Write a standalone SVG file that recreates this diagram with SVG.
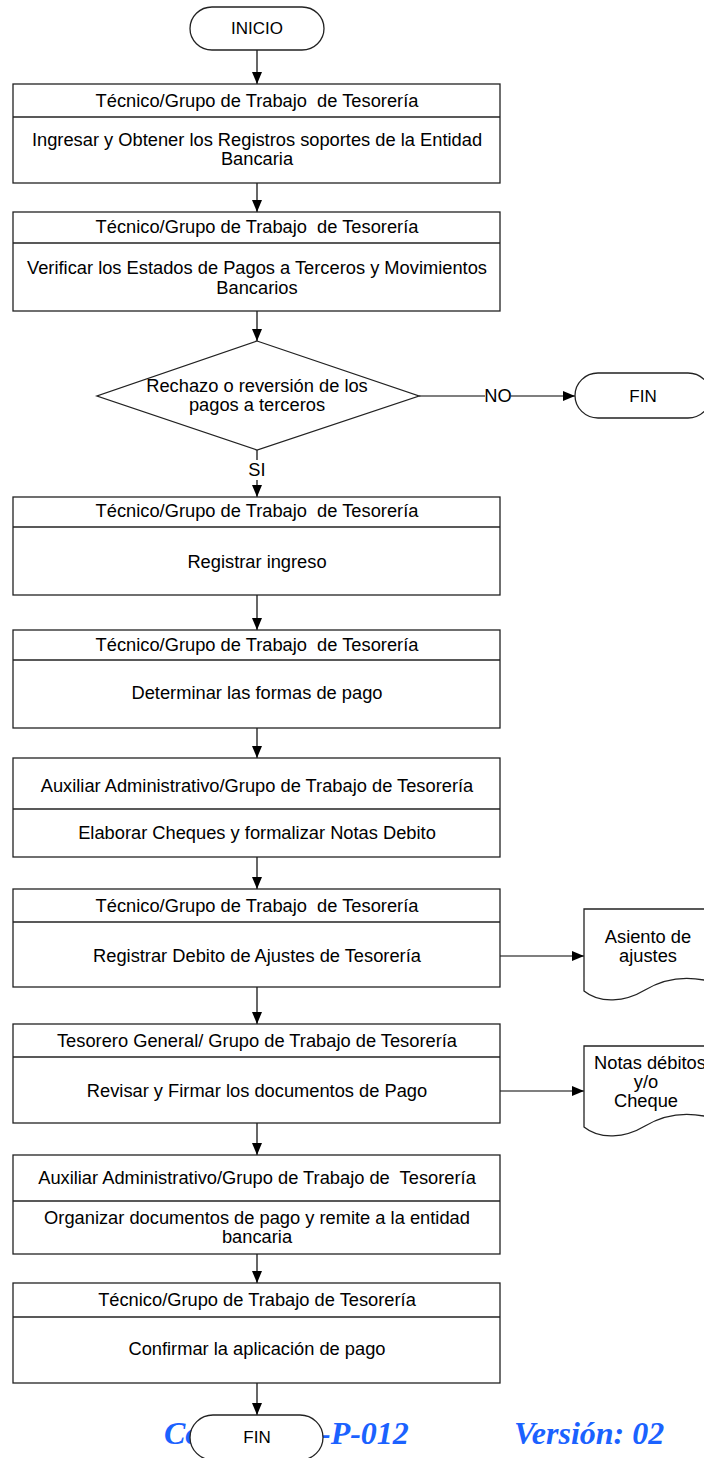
<svg xmlns="http://www.w3.org/2000/svg" width="704" height="1458" viewBox="0 0 704 1458">
<style>
.t{font-family:"Liberation Sans",Arial,sans-serif;font-size:18.3px;fill:#000;text-anchor:middle;white-space:pre}
.box{fill:#fff;stroke:#222;stroke-width:1.3}
.ln{stroke:#222;stroke-width:1.3;fill:none}
.c{stroke:#000;stroke-width:1.2;fill:none}
.blue{font-family:"Liberation Serif","Times New Roman",serif;font-weight:bold;font-style:italic;font-size:32px;fill:#1B62FF}
</style>
<defs>
<marker id="ah" viewBox="0 0 12 10" refX="12" refY="5" markerWidth="12" markerHeight="10" markerUnits="userSpaceOnUse" orient="auto">
<path d="M0,0 L12,5 L0,10 z" fill="#000"/>
</marker>
</defs>
<rect width="704" height="1458" fill="#fff"/>

<text class="blue" x="164" y="1444">Co</text>
<text class="blue" x="320" y="1444">-P-012</text>
<text class="blue" x="514" y="1444">Versión: 02</text>

<g id="connectors">
<line class="c" x1="257" y1="50" x2="257" y2="84" marker-end="url(#ah)"/>
<line class="c" x1="257" y1="183" x2="257" y2="212" marker-end="url(#ah)"/>
<line class="c" x1="257" y1="311" x2="257" y2="341" marker-end="url(#ah)"/>
<line class="c" x1="419" y1="396" x2="485" y2="396"/>
<line class="c" x1="511" y1="396" x2="575" y2="396" marker-end="url(#ah)"/>
<text class="t" x="498" y="402">NO</text>
<line class="c" x1="257" y1="450" x2="257" y2="460"/>
<line class="c" x1="257" y1="480" x2="257" y2="497" marker-end="url(#ah)"/>
<text class="t" x="257" y="476">SI</text>
<line class="c" x1="257" y1="595" x2="257" y2="630" marker-end="url(#ah)"/>
<line class="c" x1="257" y1="728" x2="257" y2="758" marker-end="url(#ah)"/>
<line class="c" x1="257" y1="857" x2="257" y2="889" marker-end="url(#ah)"/>
<line class="c" x1="257" y1="987" x2="257" y2="1024" marker-end="url(#ah)"/>
<line class="c" x1="257" y1="1123" x2="257" y2="1155" marker-end="url(#ah)"/>
<line class="c" x1="257" y1="1254" x2="257" y2="1283" marker-end="url(#ah)"/>
<line class="c" x1="257" y1="1383" x2="257" y2="1415" marker-end="url(#ah)"/>
<line class="c" x1="500" y1="956" x2="584" y2="956" marker-end="url(#ah)"/>
<line class="c" x1="500" y1="1091" x2="584" y2="1091" marker-end="url(#ah)"/>
</g>

<g id="inicio">
<rect class="box" x="190" y="7" width="134" height="43" rx="22" ry="21.5"/>
<text class="t" x="257" y="34" style="font-size:17px">INICIO</text>
</g>

<g id="p1">
<rect class="box" x="13" y="84" width="487" height="99"/>
<line class="ln" x1="13" y1="117" x2="500" y2="117"/>
<text class="t" x="257" y="107">Técnico/Grupo de Trabajo  de Tesorería</text>
<text class="t" x="257" y="146">Ingresar y Obtener los Registros soportes de la Entidad</text>
<text class="t" x="257" y="165">Bancaria</text>
</g>

<g id="p2">
<rect class="box" x="13" y="212" width="487" height="99"/>
<line class="ln" x1="13" y1="243" x2="500" y2="243"/>
<text class="t" x="257" y="233">Técnico/Grupo de Trabajo  de Tesorería</text>
<text class="t" x="257" y="274">Verificar los Estados de Pagos a Terceros y Movimientos</text>
<text class="t" x="257" y="294">Bancarios</text>
</g>

<g id="decision">
<polygon class="box" points="257,341 419,396 257,450 97,396"/>
<text class="t" x="257" y="392">Rechazo o reversión de los</text>
<text class="t" x="257" y="411">pagos a terceros</text>
</g>

<g id="fin1">
<rect class="box" x="575" y="373" width="136" height="45" rx="23" ry="22.5"/>
<text class="t" x="643" y="402" style="font-size:17px">FIN</text>
</g>

<g id="p3">
<rect class="box" x="13" y="497" width="487" height="98"/>
<line class="ln" x1="13" y1="527" x2="500" y2="527"/>
<text class="t" x="257" y="517">Técnico/Grupo de Trabajo  de Tesorería</text>
<text class="t" x="257" y="568">Registrar ingreso</text>
</g>

<g id="p4">
<rect class="box" x="13" y="630" width="487" height="98"/>
<line class="ln" x1="13" y1="660" x2="500" y2="660"/>
<text class="t" x="257" y="651">Técnico/Grupo de Trabajo  de Tesorería</text>
<text class="t" x="257" y="699">Determinar las formas de pago</text>
</g>

<g id="p5">
<rect class="box" x="13" y="758" width="487" height="99"/>
<line class="ln" x1="13" y1="809" x2="500" y2="809"/>
<text class="t" x="257" y="792">Auxiliar Administrativo/Grupo de Trabajo de Tesorería</text>
<text class="t" x="257" y="839">Elaborar Cheques y formalizar Notas Debito</text>
</g>

<g id="p6">
<rect class="box" x="13" y="889" width="487" height="98"/>
<line class="ln" x1="13" y1="922" x2="500" y2="922"/>
<text class="t" x="257" y="912">Técnico/Grupo de Trabajo  de Tesorería</text>
<text class="t" x="257" y="962">Registrar Debito de Ajustes de Tesorería</text>
</g>

<g id="doc1">
<path class="box" d="M584,909 H716 V983 C690,975 665,978 645,990 C625,1002 600,1004 584,991 Z"/>
<text class="t" x="648" y="943">Asiento de</text>
<text class="t" x="648" y="962">ajustes</text>
</g>

<g id="p7">
<rect class="box" x="13" y="1024" width="487" height="99"/>
<line class="ln" x1="13" y1="1057" x2="500" y2="1057"/>
<text class="t" x="257" y="1047">Tesorero General/ Grupo de Trabajo de Tesorería</text>
<text class="t" x="257" y="1097">Revisar y Firmar los documentos de Pago</text>
</g>

<g id="doc2">
<path class="box" d="M584,1046 H716 V1119 C690,1111 665,1114 645,1126 C625,1138 600,1140 584,1127 Z"/>
<text class="t" x="650" y="1069">Notas débitos</text>
<text class="t" x="646" y="1088">y/o</text>
<text class="t" x="646" y="1107">Cheque</text>
</g>

<g id="p8">
<rect class="box" x="13" y="1155" width="487" height="99"/>
<line class="ln" x1="13" y1="1201" x2="500" y2="1201"/>
<text class="t" x="257" y="1184">Auxiliar Administrativo/Grupo de Trabajo de  Tesorería</text>
<text class="t" x="257" y="1224">Organizar documentos de pago y remite a la entidad</text>
<text class="t" x="257" y="1243">bancaria</text>
</g>

<g id="p9">
<rect class="box" x="13" y="1283" width="487" height="100"/>
<line class="ln" x1="13" y1="1317" x2="500" y2="1317"/>
<text class="t" x="257" y="1306">Técnico/Grupo de Trabajo de Tesorería</text>
<text class="t" x="257" y="1355">Confirmar la aplicación de pago</text>
</g>

<g id="fin2">
<rect class="box" x="190" y="1415" width="133" height="45" rx="23" ry="22.5"/>
<text class="t" x="257" y="1443" style="font-size:17px">FIN</text>
</g>
</svg>
